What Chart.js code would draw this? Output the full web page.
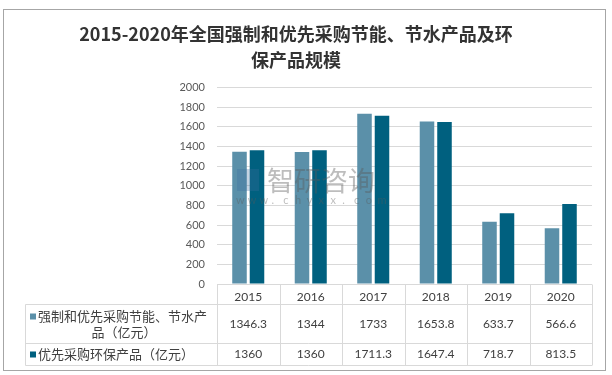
<!DOCTYPE html>
<html>
<head>
<meta charset="utf-8">
<script src="https://cdn.jsdelivr.net/npm/chart.js@4.4.0/dist/chart.umd.min.js"></script>
<style>
html,body{margin:0;padding:0;background:#fff}
#wrap{width:612px;height:375px;position:relative}
</style>
</head>
<body>
<div id="wrap"><canvas id="chart" width="612" height="375"></canvas></div>
<script>
// data
var years = ['2015', '2016', '2017', '2018', '2019', '2020'];
var qiangzhi = [1346.3, 1344, 1733, 1653.8, 633.7, 566.6];
var huanbao = [1360, 1360, 1711.3, 1647.4, 718.7, 813.5];
var qiangzhiName = ['强制和优先采购节能、节水产', '品（亿元）'];
var huanbaoName = '优先采购环保产品（亿元）';
var titleLines = ['2015-2020年全国强制和优先采购节能、节水产品及环', '保产品规模'];

var col1 = '#5b90a9';
var col2 = '#00607f';
var numFont = 'Lato, "Open Sans", sans-serif';
var cjkFont = '"Noto Sans CJK SC", sans-serif';

// outer frame + watermark
var framePlugin = {
	id: 'frame',
	beforeDraw: function(chart){
		var ctx = chart.ctx;
		ctx.save();
		ctx.fillStyle = '#fff';
		ctx.fillRect(0, 0, chart.width, chart.height);
		ctx.strokeStyle = '#a6a6a6';
		ctx.lineWidth = 1;
		ctx.strokeRect(3.5, 9.5, 602, 361);
		ctx.restore();
	},
	afterDatasetsDraw: function(chart){
		var ctx = chart.ctx;
		ctx.save();
		ctx.fillStyle = 'rgba(90,90,90,0.4)';
		ctx.font = '27px ' + cjkFont;
		ctx.textBaseline = 'middle';
		ctx.fillText('智研咨询', 267, 181);
		ctx.font = '11px ' + numFont;
		var s = 'www.chyxx.com';
		for (var i = 0; i < s.length; i++) {
			ctx.fillText(s[i], 236 + i * 11.8, 200);
		}
		ctx.fillStyle = 'rgba(60,110,160,0.3)';
		ctx.fillRect(237, 169, 22, 22);
		ctx.restore();
	}
};

// data table under the axis
var tablePlugin = {
	id: 'datatable',
	afterDraw: function(chart){
		var ctx = chart.ctx, a = chart.chartArea, x = chart.scales.x;
		var w = (a.right - a.left) / years.length;
		var top = Math.round(a.bottom) + 0.5;
		var r1 = top + 20, r2 = top + 59, r3 = top + 81;
		var tl = 25.5;
		ctx.save();
		ctx.strokeStyle = '#d9d9d9';
		ctx.lineWidth = 1;
		ctx.beginPath();
		ctx.moveTo(a.left, top); ctx.lineTo(a.right, top);
		[r1, r2, r3].forEach(function(y){ ctx.moveTo(tl, y); ctx.lineTo(a.right, y); });
		for (var i = 0; i <= years.length; i++) {
			var xx = Math.round(a.left + i * w) + 0.5;
			ctx.moveTo(xx, top); ctx.lineTo(xx, r3);
		}
		ctx.moveTo(tl, r1); ctx.lineTo(tl, r3);
		ctx.stroke();

		// row labels
		ctx.textBaseline = 'middle';
		ctx.fillStyle = col1;
		ctx.fillRect(30, r1 + 9, 6, 6);
		ctx.fillStyle = col2;
		ctx.fillRect(30, r2 + 8, 6, 6);
		ctx.fillStyle = '#404040';
		ctx.font = '13px ' + cjkFont;
		ctx.textAlign = 'left';
		ctx.fillText(qiangzhiName[0], 38, r1 + 12);
		ctx.textAlign = 'center';
		ctx.fillText(qiangzhiName[1], 124, r1 + 28);
		ctx.textAlign = 'left';
		ctx.fillText(huanbaoName, 38, (r2 + r3) / 2);

		// values
		ctx.textAlign = 'center';
		ctx.font = '12px ' + numFont;
		for (var j = 0; j < years.length; j++) {
			var cx = x.getPixelForValue(j);
			ctx.fillText(String(qiangzhi[j]), cx, (r1 + r2) / 2);
			ctx.fillText(String(huanbao[j]), cx, (r2 + r3) / 2);
		}
		ctx.restore();
	}
};

var ctx = document.getElementById('chart').getContext('2d');
var myChart = new Chart(ctx, {
	type: 'bar',
	data: {
		labels: years,
		datasets: [{
			label: qiangzhiName.join(''),
			data: qiangzhi,
			backgroundColor: col1,
			categoryPercentage: 0.56,
			barPercentage: 0.83
		}, {
			label: huanbaoName,
			data: huanbao,
			backgroundColor: col2,
			categoryPercentage: 0.56,
			barPercentage: 0.83
		}]
	},
	options: {
		responsive: false,
		devicePixelRatio: 1,
		animation: false,
		layout: {
			padding: {left: 0, right: 20, top: 0, bottom: 0}
		},
		plugins: {
			legend: {display: false},
			tooltip: {enabled: false},
			title: {
				display: true,
				text: titleLines,
				color: '#333',
				font: {family: cjkFont, size: 18, weight: 'bold', lineHeight: 1.4},
				padding: {top: 22, bottom: 15}
			}
		},
		scales: {
			x: {
				grid: {display: false, drawTicks: false},
				border: {display: false},
				ticks: {color: '#404040', font: {family: numFont, size: 12}, padding: 6},
				afterFit: function(scale){ scale.height = 91; }
			},
			y: {
				min: 0,
				max: 2000,
				ticks: {
					stepSize: 200,
					color: '#595959',
					font: {family: numFont, size: 11},
					padding: 12,
					callback: function(v){ return String(v); }
				},
				grid: {color: '#d9d9d9', drawTicks: false},
				border: {display: false},
				afterFit: function(scale){ scale.width = 217; }
			}
		}
	},
	plugins: [framePlugin, tablePlugin]
});
</script>
</body>
</html>
